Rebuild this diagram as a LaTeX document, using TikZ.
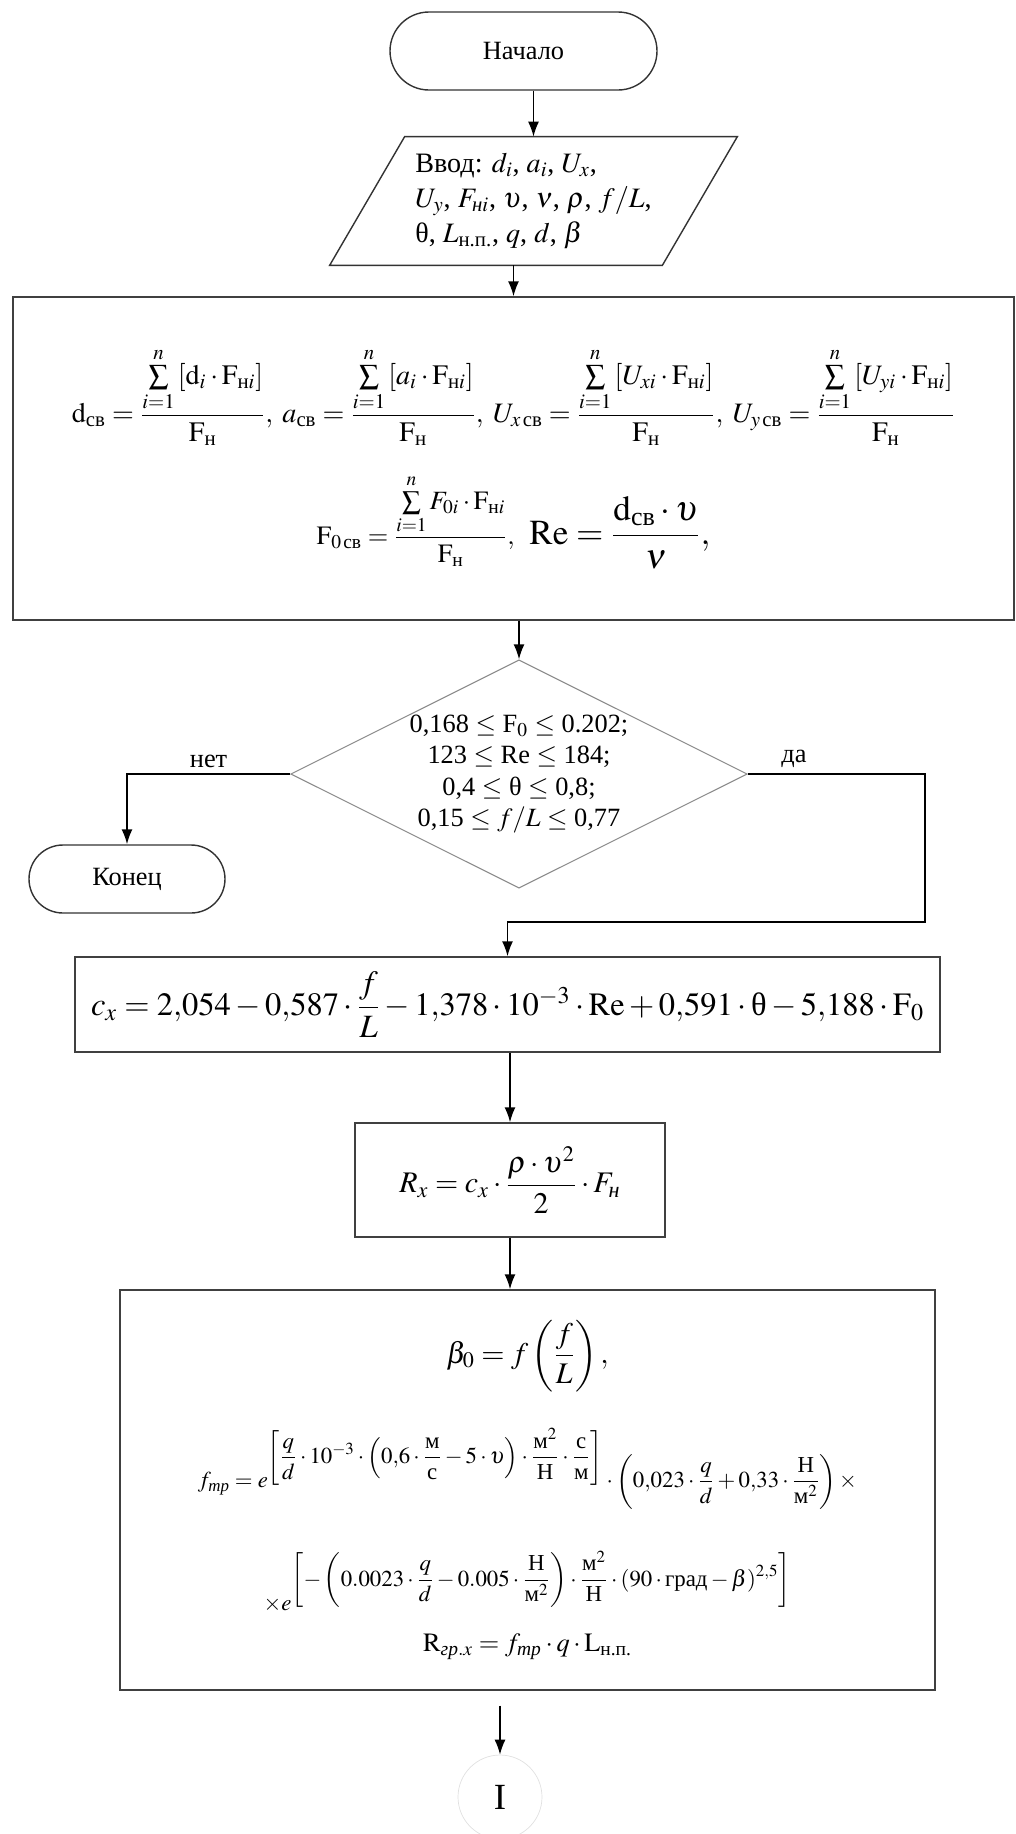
\documentclass[tikz,border=0pt]{standalone}
\usepackage{amsmath}
\usepackage{mathptmx}
\usepackage[no-math]{fontspec}
\setmainfont{Liberation Serif}
\usepackage{tikz}
\usetikzlibrary{positioning,arrows.meta,shapes.geometric,calc}

\begin{document}
\begin{tikzpicture}[
  font=\fontsize{15}{18}\selectfont,
  term/.style={draw=black!80, line width=0.8pt, align=center},
  procbox/.style={draw=black!75, line width=0.8pt, align=center, inner sep=3pt},
  iobox/.style={align=left, inner sep=0pt, font=\fontsize{16}{20}\selectfont},
  decision/.style={diamond, draw=black!45, line width=0.6pt, aspect=2, inner sep=0pt, align=center, font=\fontsize{15}{18}\selectfont},
  arr/.style={-{Latex[length=3mm,width=2.2mm]}, line width=0.9pt}
]
  \useasboundingbox (0,0) rectangle (20.32,-36.68);

  % START + INPUT
  \node[term, minimum width=5.34cm, minimum height=1.56cm, rounded corners=0.78cm] (start) at (10.47,-1.02) {Начало};
  \node[iobox, minimum width=8.14cm, minimum height=2.56cm] (input) at (10.67,-4.02)
    {Ввод: $d_i$, $a_i$, $U_x$,\\ $U_y$, $F_{\textit{н}i}$, $\upsilon$, $\nu$, $\rho$, $f/L$,\\ θ, $L_{\text{н.п.}}$, $q$, $d$, $\beta$};
  \draw[line width=0.8pt, draw=black!80] ($(input.north west)+(1.5,0)$) -- (input.north east)
    -- ($(input.south east)+(-1.5,0)$) -- (input.south west) -- cycle;

  \draw[arr] (start.south -| input.north) -- (input.north);

  % AVERAGED VALUES
  \node[procbox, minimum width=20.02cm, minimum height=6.46cm, font=\fontsize{16}{19}\selectfont] (calc) at (10.27,-9.17)
    {$\mathrm{d}_{\text{св}}=\dfrac{\sum\limits_{i=1}^{n}\left[\mathrm{d}_i\cdot\mathrm{F}_{\text{н}i}\right]}{\mathrm{F}_{\text{н}}},\;
      a_{\text{св}}=\dfrac{\sum\limits_{i=1}^{n}\left[a_i\cdot\mathrm{F}_{\text{н}i}\right]}{\mathrm{F}_{\text{н}}},\;
      U_{x\,\text{св}}=\dfrac{\sum\limits_{i=1}^{n}\left[U_{xi}\cdot\mathrm{F}_{\text{н}i}\right]}{\mathrm{F}_{\text{н}}},\;
      U_{y\,\text{св}}=\dfrac{\sum\limits_{i=1}^{n}\left[U_{yi}\cdot\mathrm{F}_{\text{н}i}\right]}{\mathrm{F}_{\text{н}}}$\\[0.55cm]
     {\fontsize{15}{18}\selectfont $\mathrm{F}_{0\,\text{св}}=\dfrac{\sum\limits_{i=1}^{n}F_{0i}\cdot\mathrm{F}_{\text{н}i}}{\mathrm{F}_{\text{н}}},$}
     {\fontsize{20}{23}\selectfont $\;\mathrm{Re}=\dfrac{\mathrm{d}_{\text{св}}\cdot\upsilon}{\nu},$}};

  \draw[arr] (input.south -| calc.north) -- (calc.north);

  % CHECK OF RANGES
  \node[decision, minimum width=9.08cm, minimum height=4.44cm] (check) at (10.38,-15.48)
    {0,168 $\le$ F$_0$ $\le$ 0.202;\\ 123 $\le$ Re $\le$ 184;\\ 0,4 $\le$ θ $\le$ 0,8;\\ 0,15 $\le$ $f/L$ $\le$ 0,77};
  \node[term, minimum width=3.92cm, minimum height=1.36cm, rounded corners=0.68cm] (stop) at (2.54,-17.58) {Конец};
  \coordinate (yesB) at (18.5,-18.44);

  % RESISTANCE
  \node[procbox, minimum width=17.3cm, minimum height=1.9cm, font=\fontsize{18.5}{22}\selectfont] (cx) at (10.15,-20.09)
    {$c_x=2{,}054-0{,}587\cdot\dfrac{f}{L}-1{,}378\cdot10^{-3}\cdot\mathrm{Re}+0{,}591\cdot\text{θ}-5{,}188\cdot\mathrm{F}_0$};
  \node[procbox, minimum width=6.2cm, minimum height=2.28cm, font=\fontsize{17}{20}\selectfont] (rx) at (10.2,-23.6)
    {$R_x=c_x\cdot\dfrac{\rho\cdot\upsilon^2}{2}\cdot F_{\textit{н}}$};

  \draw[arr] (calc.south -| check.north) -- (check.north);
  \draw[arr] (check.west) -| node[pos=0.25, above] {нет} (stop.north);
  \draw[arr] (check.east) -| node[pos=0.13, above] {да} (yesB) -| (cx.north);
  \draw[arr] (cx.south -| rx.north) -- (rx.north);

  % FRICTION
  \node[procbox, minimum width=16.3cm, minimum height=8cm] (final) at (10.55,-29.8)
    {{\fontsize{17}{20}\selectfont $\beta_0=f\left(\dfrac{f}{L}\right),$}\\[0.7cm]
     {\fontsize{13}{15}\selectfont $f_{\textit{тр}}=e^{\displaystyle\left[\frac{q}{d}\cdot10^{-3}\cdot\left(0{,}6\cdot\frac{\text{м}}{\text{с}}-5\cdot\upsilon\right)\cdot\frac{\text{м}^2}{\text{Н}}\cdot\frac{\text{с}}{\text{м}}\right]}\cdot\left(0{,}023\cdot\dfrac{q}{d}+0{,}33\cdot\dfrac{\text{Н}}{\text{м}^2}\right)\times$}\\[0.8cm]
     {\fontsize{13}{15}\selectfont $\times e^{\displaystyle\left[-\left(0.0023\cdot\frac{q}{d}-0.005\cdot\frac{\text{Н}}{\text{м}^2}\right)\cdot\frac{\text{м}^2}{\text{Н}}\cdot(90\cdot\text{град}-\beta)^{2,5}\right]}$}\\[0.2cm]
     {\fontsize{15}{18}\selectfont $\mathrm{R}_{\textit{гр}.x}=f_{\textit{тр}}\cdot q\cdot\mathrm{L}_{\text{н.п.}}$}};
  \node[circle, draw=black!12, minimum size=1.68cm, inner sep=0pt, font=\fontsize{21}{24}\selectfont] (conn) at (10.0,-35.94) {I};

  \draw[arr] (rx.south) -- (rx.south |- final.north);
  \draw[arr] ($(final.south -| conn.north)+(0,-0.3)$) -- (conn.north);

\end{tikzpicture}
\end{document}
